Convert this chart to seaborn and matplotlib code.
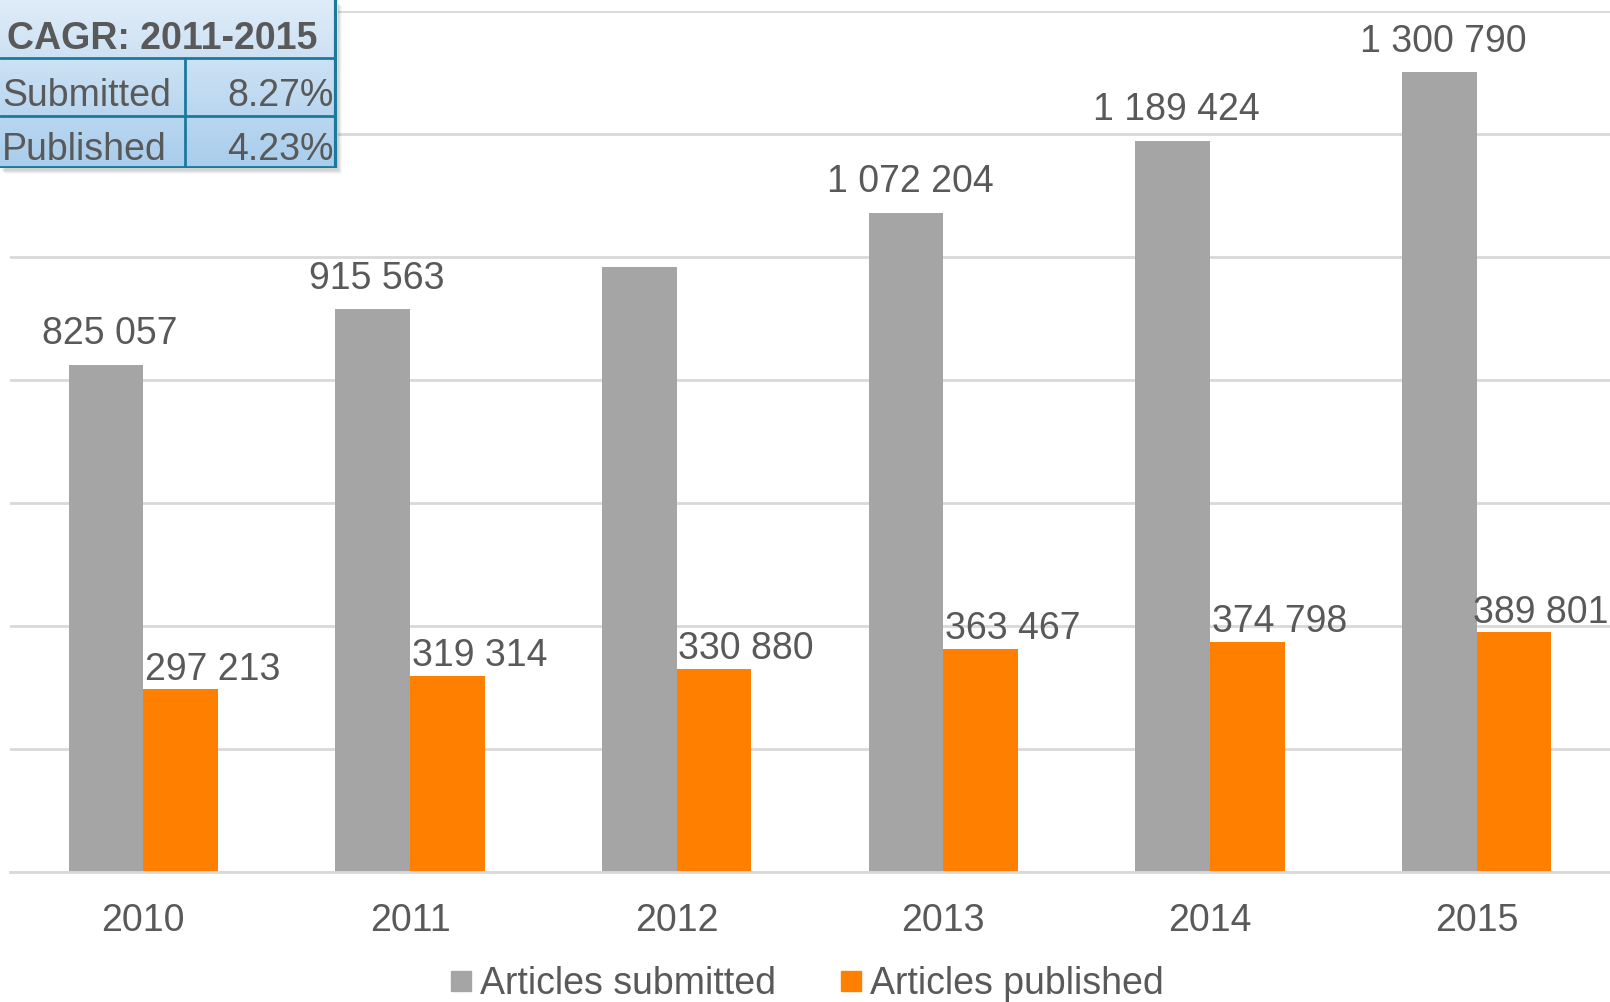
import numpy as np
import pandas as pd
import matplotlib
matplotlib.use("Agg")
import matplotlib.pyplot as plt
import seaborn as sns
from matplotlib.lines import Line2D
from matplotlib.patches import Rectangle
from matplotlib.colors import LinearSegmentedColormap

years = ["2010", "2011", "2012", "2013", "2014", "2015"]
submitted = [825057, 915563, 984500, 1072204, 1189424, 1300790]
published = [297213, 319314, 330880, 363467, 374798, 389801]
show_submitted_label = [True, True, False, True, True, True]
series_names = ["Articles submitted", "Articles published"]
cagr_title = "CAGR: 2011-2015"
cagr_rows = ["Submitted", "Published"]
cagr_vals = ["8.27%", "4.23%"]

GREY = "#A5A5A5"
ORANGE = "#FF8000"
TXT = "#595959"

sns.set_theme(style="white")
plt.rcParams["font.family"] = ["Liberation Sans", "DejaVu Sans"]

df = pd.DataFrame({
    "year": years * 2,
    "value": submitted + published,
    "series": [series_names[0]] * len(years) + [series_names[1]] * len(years),
})

fig = plt.figure(figsize=(16.10, 10.02), dpi=100)
ax = fig.add_axes([10 / 1610, 130 / 1002, 1600 / 1610, (990.7 - 130) / 1002])

sns.barplot(data=df, x="year", y="value", hue="series", order=years,
            hue_order=series_names, palette=[GREY, ORANGE], width=0.56,
            dodge=True, saturation=1, ax=ax, legend=False, linewidth=0)

ax.set_xlim(-0.5, 5.5)
ax.set_ylim(0, 1400000)
ax.set_yticks(np.arange(0, 1400001, 200000))
ax.yaxis.grid(True, color="#D9D9D9", linewidth=2)
ax.set_axisbelow(True)
ax.set_yticklabels([])
ax.tick_params(axis="y", length=0)
ax.tick_params(axis="x", length=0, pad=22, labelsize=27, labelcolor=TXT)
for s in ["top", "right", "left"]:
    ax.spines[s].set_visible(False)
ax.spines["bottom"].set_color("#D9D9D9")
ax.spines["bottom"].set_linewidth(2)
ax.set_xlabel("")
ax.set_ylabel("")

fmt = lambda v: f"{v:,}".replace(",", " ")
bw = 0.28
n = len(years)
for i, (s, p) in enumerate(zip(submitted, published)):
    if show_submitted_label[i]:
        ax.annotate(fmt(s), (i - bw / 2, s), xytext=(3, 9), textcoords="offset points",
                    ha="center", va="bottom", fontsize=27, color=TXT)
    dx = 23 if i < n - 1 else 19
    ax.annotate(fmt(p), (i + bw / 2, p), xytext=(dx, 1), textcoords="offset points",
                ha="center", va="bottom", fontsize=27, color=TXT)

handles = [Line2D([], [], marker="s", linestyle="none", markersize=14, color=c)
           for c in [GREY, ORANGE]]
fig.legend(handles, series_names, loc="lower center", bbox_to_anchor=(0.5, -0.034),
           ncol=2, frameon=False, fontsize=27, handletextpad=0.1,
           columnspacing=1.6, labelcolor=TXT, handlelength=0.8)

# CAGR table (top-left)
W, H = 1610, 1002
tx0, tx1, ty0, ty1 = 0, 337, 0, 168  # pixel box, y from top
for k, a in enumerate([0.06, 0.05, 0.04, 0.03]):
    sh = Rectangle(((tx0 + 2 + k) / W, 1 - (ty1 + 3 + k) / H), (tx1 - tx0) / W, (ty1 - ty0) / H,
                   transform=fig.transFigure, facecolor="black", alpha=a, edgecolor="none", zorder=5)
    fig.add_artist(sh)
tax = fig.add_axes([tx0 / W, 1 - ty1 / H, (tx1 - tx0) / W, (ty1 - ty0) / H], zorder=6)
grad = np.linspace(0, 1, 256).reshape(-1, 1)
cmap = LinearSegmentedColormap.from_list("tb", ["#E0ECF8", "#A8CDEC"])
tax.imshow(grad, aspect="auto", cmap=cmap, extent=[0, tx1 - tx0, ty1 - ty0, 0])
tax.set_xlim(0, tx1 - tx0)
tax.set_ylim(ty1 - ty0, 0)
tax.axis("off")
bc = "#1B7A9C"
for yy in [58, 116]:
    tax.plot([0, tx1], [yy, yy], color=bc, lw=2)
tax.plot([185, 185], [58, ty1], color=bc, lw=2)
tax.plot([tx1 - 1.5, tx1 - 1.5], [0, ty1], color=bc, lw=3)
tax.plot([0, tx1], [ty1 - 1, ty1 - 1], color=bc, lw=2)
tax.text(7, 49, cagr_title, ha="left", va="baseline", fontsize=27,
         fontweight="bold", color=TXT)
for r, (lab, val) in enumerate(zip(cagr_rows, cagr_vals)):
    yb = 58 + r * 54 + 48
    tax.text(2, yb, lab, ha="left", va="baseline", fontsize=27, color=TXT)
    tax.text(334, yb, val, ha="right", va="baseline", fontsize=27, color=TXT)

fig.savefig("out.png", dpi=100)
